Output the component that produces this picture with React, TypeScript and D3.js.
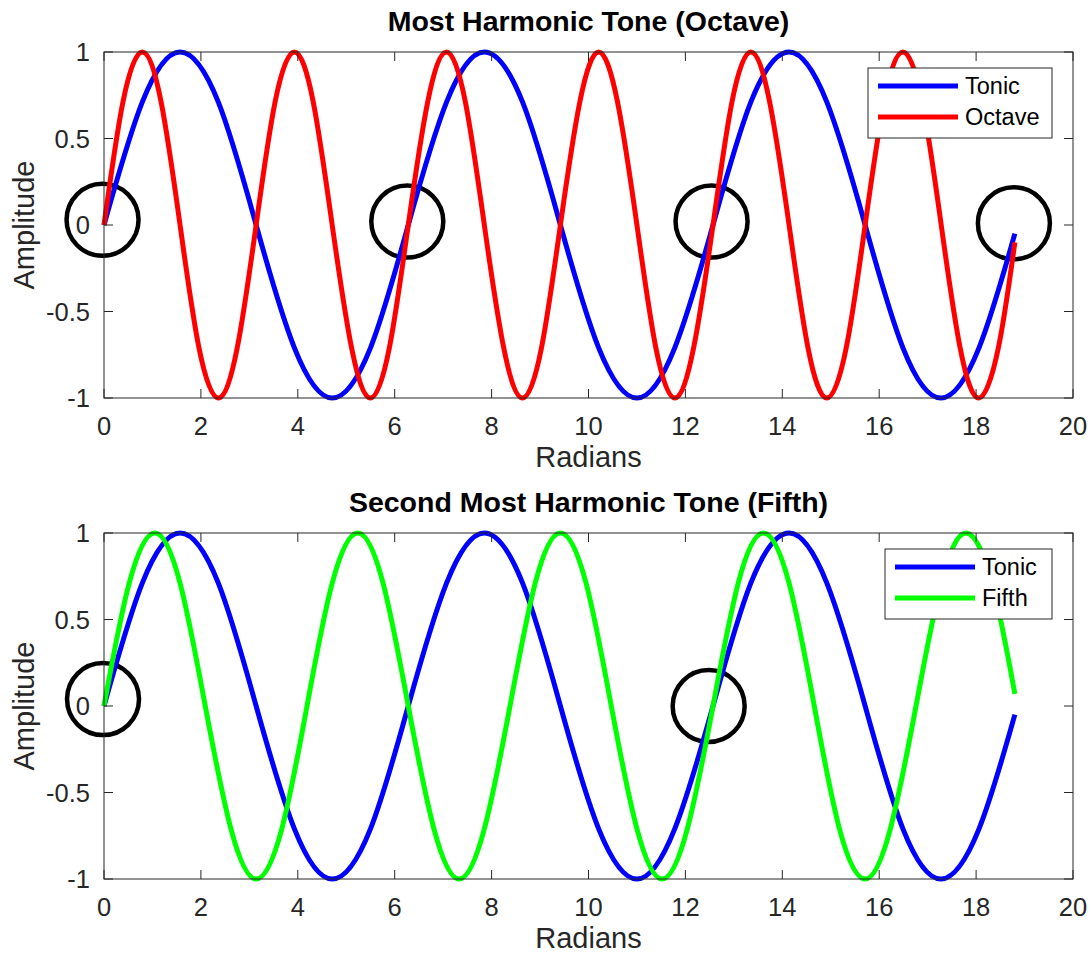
import React from 'react';
import * as d3 from 'd3';

// samples (eighth-period spacing)
const tonicX = [0, 0.79, 1.57, 2.36, 3.14, 3.93, 4.71, 5.5, 6.28, 7.07, 7.85, 8.64, 9.42, 10.21, 11.0, 11.78, 12.57, 13.35, 14.14, 14.92, 15.71, 16.49, 17.28, 18.06, 18.8];
const tonicY = [0, 0.71, 1, 0.71, 0, -0.71, -1, -0.71, 0, 0.71, 1, 0.71, 0, -0.71, -1, -0.71, 0, 0.71, 1, 0.71, 0, -0.71, -1, -0.71, -0.05];

const octaveX = [0, 0.39, 0.79, 1.18, 1.57, 1.96, 2.36, 2.75, 3.14, 3.53, 3.93, 4.32, 4.71, 5.11, 5.5, 5.89, 6.28, 6.68, 7.07, 7.46, 7.85, 8.25, 8.64, 9.03, 9.42, 9.82, 10.21, 10.6, 11.0, 11.39, 11.78, 12.17, 12.57, 12.96, 13.35, 13.74, 14.14, 14.53, 14.92, 15.32, 15.71, 16.1, 16.49, 16.89, 17.28, 17.67, 18.06, 18.46, 18.8];
const octaveY = [
  0, 0.71, 1, 0.71, 0, -0.71, -1, -0.71,
  0, 0.71, 1, 0.71, 0, -0.71, -1, -0.71,
  0, 0.71, 1, 0.71, 0, -0.71, -1, -0.71,
  0, 0.71, 1, 0.71, 0, -0.71, -1, -0.71,
  0, 0.71, 1, 0.71, 0, -0.71, -1, -0.71,
  0, 0.71, 1, 0.71, 0, -0.71, -1, -0.71,
  -0.1,
];

const fifthX = [0, 0.52, 1.05, 1.57, 2.09, 2.62, 3.14, 3.67, 4.19, 4.71, 5.24, 5.76, 6.28, 6.81, 7.33, 7.85, 8.38, 8.9, 9.42, 9.95, 10.47, 11.0, 11.52, 12.04, 12.57, 13.09, 13.61, 14.14, 14.66, 15.18, 15.71, 16.23, 16.76, 17.28, 17.8, 18.33, 18.8];
const fifthY = [
  0, 0.71, 1, 0.71, 0, -0.71, -1, -0.71,
  0, 0.71, 1, 0.71, 0, -0.71, -1, -0.71,
  0, 0.71, 1, 0.71, 0, -0.71, -1, -0.71,
  0, 0.71, 1, 0.71, 0, -0.71, -1, -0.71,
  0, 0.71, 1, 0.71,
  0.07,
];

// the black circles marking where the waves line up again
const octaveCircleX = [-0.03, 6.26, 12.54, 18.78];
const octaveCircleY = [0.03, 0.02, 0.02, 0.01];
const fifthCircleX = [-0.02, 12.48];
const fifthCircleY = [0.04, 0.0];

const xTicks = [0, 2, 4, 6, 8, 10, 12, 14, 16, 18, 20];
const yTicks = [-1, -0.5, 0, 0.5, 1];

const FONT = '"Liberation Sans", Arial, Helvetica, sans-serif';
const AX = '#262626';

type Series = { name: string; color: string; xs: number[]; ys: number[] };

function Panel({ top, title, series, circX, circY, legendLeft, legendW }: {
  top: number; title: string; series: Series[]; circX: number[]; circY: number[];
  legendLeft: number; legendW: number;
}) {
  const left = 104, right = 1073, height = 346;
  const bottom = top + height;
  const x = d3.scaleLinear().domain([0, 20]).range([left, right]);
  const y = d3.scaleLinear().domain([-1, 1]).range([bottom, top]);
  const line = d3.line<[number, number]>()
    .x(d => x(d[0]))
    .y(d => y(d[1]))
    .curve(d3.curveNatural);
  const tick = 9;
  const legTop = top + 16;

  return (
    <g fontFamily={FONT}>
      <text x={(left + right) / 2} y={top - 21} textAnchor="middle" fontSize={28.5} fontWeight="bold" fill="#000">{title}</text>

      {circX.map((cx, i) => (
        <circle key={i} cx={x(cx)} cy={y(circY[i])} r={36} fill="none" stroke="#000" strokeWidth={4.5} />
      ))}

      {series.map(s => (
        <path key={s.name} d={line(s.xs.map((v, i) => [v, s.ys[i]] as [number, number])) || ''}
          fill="none" stroke={s.color} strokeWidth={5} />
      ))}

      {/* box with mirrored inward ticks */}
      <rect x={left} y={top} width={right - left} height={height} fill="none" stroke={AX} strokeWidth={1} />
      {xTicks.map(t => (
        <g key={'x' + t}>
          <line x1={x(t)} x2={x(t)} y1={bottom} y2={bottom - tick} stroke={AX} />
          <line x1={x(t)} x2={x(t)} y1={top} y2={top + tick} stroke={AX} />
          <text x={x(t)} y={bottom + 37} textAnchor="middle" fontSize={25.5} fill={AX}>{t}</text>
        </g>
      ))}
      {yTicks.map(t => (
        <g key={'y' + t}>
          <line x1={left} x2={left + tick} y1={y(t)} y2={y(t)} stroke={AX} />
          <line x1={right} x2={right - tick} y1={y(t)} y2={y(t)} stroke={AX} />
          <text x={left - 14} y={y(t)} dy="0.36em" textAnchor="end" fontSize={25.5} fill={AX}>{t}</text>
        </g>
      ))}

      <text x={(left + right) / 2} y={bottom + 69} textAnchor="middle" fontSize={29} fill={AX}>Radians</text>
      <text transform={`translate(34,${(top + bottom) / 2}) rotate(-90)`} textAnchor="middle" fontSize={29} fill={AX}>Amplitude</text>

      {/* legend */}
      <rect x={legendLeft} y={legTop} width={legendW} height={70} fill="#fff" stroke={AX} strokeWidth={1} />
      {series.map((s, i) => (
        <g key={'l' + s.name}>
          <line x1={legendLeft + 10} x2={legendLeft + 90} y1={legTop + 18 + i * 31} y2={legTop + 18 + i * 31}
            stroke={s.color} strokeWidth={5} />
          <text x={legendLeft + 97} y={legTop + 18 + i * 31} dy="0.36em" fontSize={23.5} fill="#000">{s.name}</text>
        </g>
      ))}
    </g>
  );
}

export default function App() {
  const tonic: Series = { name: 'Tonic', color: '#0000ff', xs: tonicX, ys: tonicY };
  const octave: Series = { name: 'Octave', color: '#ff0000', xs: octaveX, ys: octaveY };
  const fifth: Series = { name: 'Fifth', color: '#00ff00', xs: fifthX, ys: fifthY };
  return (
    <svg width={1092} height={954} style={{ position: 'absolute', left: 0, top: 0, background: '#fff' }}>
      <Panel top={52} title="Most Harmonic Tone (Octave)" series={[tonic, octave]}
        circX={octaveCircleX} circY={octaveCircleY} legendLeft={868} legendW={184} />
      <Panel top={533} title="Second Most Harmonic Tone (Fifth)" series={[tonic, fifth]}
        circX={fifthCircleX} circY={fifthCircleY} legendLeft={885} legendW={167} />
    </svg>
  );
}
